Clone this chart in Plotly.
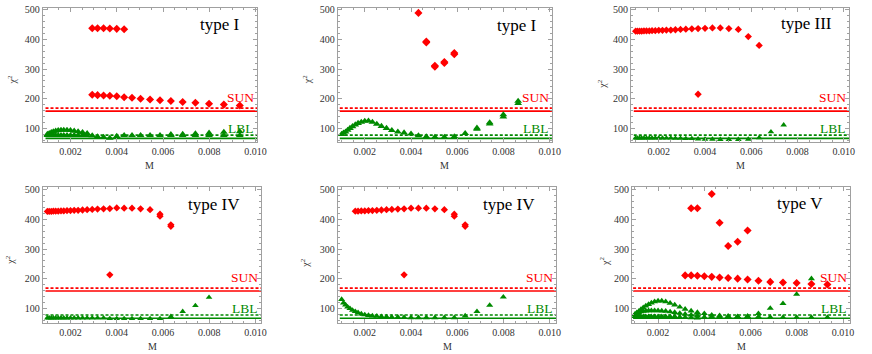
import plotly.graph_objects as go

W, H = 872, 354
SERIF = "Liberation Serif, Times New Roman, serif"
RED = "#ff0000"
GREEN = "#008a00"
FRAME = "#a0a0a0"

# ---------------- data ----------------
M_grid = [0.00100, 0.00108, 0.00117, 0.00126, 0.00136, 0.00147, 0.00159, 0.00171,
          0.00185, 0.00200, 0.00216, 0.00233, 0.00252, 0.00272, 0.00294, 0.00317,
          0.00343, 0.00370, 0.00400, 0.00432, 0.00466, 0.00503, 0.00544, 0.00587,
          0.00634, 0.00685, 0.00740, 0.00799, 0.00863, 0.00932]

SUN_solid, SUN_dashed = 158, 168
LBL_solid, LBL_dashed = 66, 77
line_span = [0.00092, 0.0110]

x_tickvals = [0.002, 0.004, 0.006, 0.008, 0.010]
x_ticktext = ["0.002", "0.004", "0.006", "0.008", "0.010"]
y_tickvals = [100, 200, 300, 400, 500]
y_ticktext = ["100", "200", "300", "400", "500"]
panel_titles = ["type I", "type I", "type III", "type IV", "type IV", "type V"]

# panel 1 (type I)
p1_red_hi_M = M_grid[14:20]
p1_red_hi = [438, 438, 438, 437, 436, 435]
p1_red_lo_M = M_grid[14:30]
p1_red_lo = [213, 212, 211, 210, 208, 205, 203, 200, 197, 195, 192, 189, 186, 183, 180, 177]
p1_grn_hump_M = M_grid[0:14]
p1_grn_hump = [80, 83, 86, 89, 91, 93, 94, 94, 94, 93, 91, 89, 86, 83]
p1_grn_low_M = M_grid[0:30]
p1_grn_low = [76, 76, 76, 76, 76, 76, 76, 76, 76, 76, 76, 76, 76, 76,
              75, 72, 70, 67, 73, 76, 76, 76, 76, 76, 76, 76, 76, 76, 76, 76]
p1_grn_up_M = M_grid[24:30]
p1_grn_up = [79, 80, 82, 84, 87, 89]

# panel 2 (type I)
p2_red_M = M_grid[19:24]
p2_red = [490, 390, 311, 324, 354]
p2_red_dbl_M = M_grid[20:24]
p2_red_dbl = [393, 308, 321, 350]
p2_grn_M = M_grid[0:29]
p2_grn = [80, 84, 88, 94, 100, 106, 112, 117, 121, 124,
          125, 121, 114, 107, 100, 93, 88, 85, 81, 75,
          72, 70, 70, 72, 83, 97, 115, 139, 184]
p2_grn_up_M = M_grid[25:29]
p2_grn_up = [101, 119, 146, 192]

# panel 3 (type III)
p3_red_M = M_grid[0:25]
p3_red = [428, 428, 428, 428, 429, 429, 429, 430, 430, 431,
          431, 432, 432, 433, 434, 435, 436, 437, 438, 439,
          439, 437, 434, 410, 380]
p3_red_x_M = [0.00370]
p3_red_x = [215]
p3_grn_M = M_grid[0:27]
p3_grn = [67, 67, 67, 67, 67, 67, 67, 67, 67, 67,
          67, 67, 67, 66, 66, 65, 65, 64,
          63, 63, 62, 62, 62, 63, 68, 88, 111]

# panel 4 (type IV)
p4_red_M = M_grid[0:25]
p4_red = [427, 427, 427, 428, 428, 428, 429, 429, 430, 430,
          431, 431, 432, 433, 434, 435, 436, 437, 439, 438,
          438, 436, 433, 418, 382]
p4_red_dbl_M = M_grid[23:25]
p4_red_dbl = [411, 377]
p4_red_x_M = [0.00370]
p4_red_x = [213]
p4_grn_M = M_grid[0:28]
p4_grn = [67, 67, 67, 67, 67, 67, 67, 67, 67, 67, 67, 67, 67, 67, 67, 67, 67,
          65, 65, 65, 65, 65, 65, 65, 72, 89, 109, 137]

# panel 5 (type IV)
p5_red_M = M_grid[6:25]
p5_red = [428, 428, 429, 429, 430, 430, 431, 432, 433,
          434, 435, 436, 438, 438, 438, 436, 433, 418, 382]
p5_red_dbl_M = M_grid[23:25]
p5_red_dbl = [411, 377]
p5_red_x_M = [0.00370]
p5_red_x = [213]
p5_grn_M = M_grid[0:28]
p5_grn = [130, 118, 111, 104, 99, 93, 89, 85, 81, 78,
          76, 74, 73, 72, 71, 70, 70, 69, 68, 68,
          68, 68, 68, 68, 74, 89, 110, 138]

# panel 6 (type V)
p6_red_hi_M = [0.00343, 0.00370, 0.00432, 0.00466, 0.00503, 0.00544, 0.00587]
p6_red_hi = [438, 438, 486, 389, 310, 325, 363]
p6_red_lo_M = M_grid[15:30]
p6_red_lo = [211, 211, 210, 208, 206, 204, 202, 200, 197, 193, 189, 187, 185, 182, 180]
p6_grn_up_M = M_grid[0:29]
p6_grn_up = [80, 85, 90, 96, 102, 108, 113, 118, 122, 125,
             125, 122, 117, 111, 104, 97, 91, 86, 82, 77,
             75, 73, 72, 73, 82, 100, 116, 147, 200]
p6_grn_mid_M = M_grid[0:18]
p6_grn_mid = [78, 82, 85, 88, 90, 91, 92, 92, 92, 92, 91, 90, 88, 86, 83, 80, 77, 75]
p6_grn_low_M = M_grid[0:30]
p6_grn_low = [72, 72, 72, 72, 72, 72, 72, 72, 72, 72, 72, 72, 72, 72,
              70, 69, 68, 67,
              70, 71, 71, 71, 71, 71, 71, 70, 69, 69, 69, 69]

# ---------------- panel setup ----------------
R = ("diamond", RED)
G = ("triangle-up", GREEN)
panels = [
    [(p1_grn_low_M, p1_grn_low, G, 6.8), (p1_grn_hump_M, p1_grn_hump, G, 6.8),
     (p1_grn_up_M, p1_grn_up, G, 6.8),
     (p1_red_hi_M, p1_red_hi, R, 6.2), (p1_red_lo_M, p1_red_lo, R, 6.2)],
    [(p2_grn_M, p2_grn, G, 6.8), (p2_grn_up_M, p2_grn_up, G, 6.8),
     (p2_red_M, p2_red, R, 6.2), (p2_red_dbl_M, p2_red_dbl, R, 6.2)],
    [(p3_grn_M, p3_grn, G, 5.8), (p3_red_M, p3_red, R, 5.6), (p3_red_x_M, p3_red_x, R, 5.6)],
    [(p4_grn_M, p4_grn, G, 5.8), (p4_red_M, p4_red, R, 5.6),
     (p4_red_dbl_M, p4_red_dbl, R, 5.6), (p4_red_x_M, p4_red_x, R, 5.6)],
    [(p5_grn_M, p5_grn, G, 6.2), (p5_red_M, p5_red, R, 5.6),
     (p5_red_dbl_M, p5_red_dbl, R, 5.6), (p5_red_x_M, p5_red_x, R, 5.6)],
    [(p6_grn_low_M, p6_grn_low, G, 6.2), (p6_grn_mid_M, p6_grn_mid, G, 6.2),
     (p6_grn_up_M, p6_grn_up, G, 6.2),
     (p6_red_hi_M, p6_red_hi, R, 6.2), (p6_red_lo_M, p6_red_lo, R, 6.2)],
]

# frame pixel boxes (left, right, top, bottom)
frames = [(43.3, 260.0, 4.0, 140.0), (341.7, 558.3, 4.0, 140.0), (638.3, 859.3, 4.0, 140.0),
          (43.3, 264.3, 185.3, 322.5), (341.7, 562.7, 185.3, 322.5), (639.3, 860.0, 185.3, 322.5)]
x002_px = [71.3, 369.0, 666.4, 71.3, 369.0, 665.7]
y500_px = [6.0, 6.0, 6.0, 188.0, 188.0, 188.0]
XS = 23400.0   # px per unit of M
YS = 0.29925   # px per unit of chi^2
title_pos = [(245, 21), (545, 21.7), (843.3, 20), (245, 203), (543.3, 203), (835, 202)]
chi_pos = [(11.7, 76.7), (310, 76.7), (609, 81.7), (10, 258.7), (308.3, 262), (611.7, 260.3)]

fig = go.Figure()
layout = {}
annotations = []

for i, traces in enumerate(panels):
    n = i + 1
    xa = "x" if n == 1 else f"x{n}"
    ya = "y" if n == 1 else f"y{n}"
    # reference lines
    for lvl, dash, col in [(SUN_solid, "solid", RED), (SUN_dashed, "3px,2px", RED),
                           (LBL_solid, "solid", GREEN), (LBL_dashed, "3px,2px", GREEN)]:
        fig.add_trace(go.Scatter(x=line_span, y=[lvl, lvl], mode="lines",
                                 line=dict(color=col, width=1.6, dash=dash),
                                 xaxis=xa, yaxis=ya, showlegend=False, hoverinfo="skip"))
    for xs, ys, (sym, col), sz in traces:
        fig.add_trace(go.Scatter(x=xs, y=ys, mode="markers",
                                 marker=dict(symbol=sym, size=sz, color=col, line=dict(width=0)),
                                 xaxis=xa, yaxis=ya, showlegend=False))

    L, Rr, T, B = frames[i]
    xr = [0.002 + (L - x002_px[i]) / XS, 0.002 + (Rr - x002_px[i]) / XS]
    yr = [500 - (B - y500_px[i]) / YS, 500 + (y500_px[i] - T) / YS]
    common = dict(showline=True, linecolor=FRAME, linewidth=1, mirror="allticks",
                  ticks="inside", ticklen=4, tickwidth=1, tickcolor=FRAME,
                  showgrid=False, zeroline=False,
                  tickfont=dict(family=SERIF, size=10, color="#333333"))
    layout["xaxis" if n == 1 else f"xaxis{n}"] = dict(
        common, domain=[L / W, Rr / W], range=xr, anchor=ya,
        tickmode="array", tickvals=x_tickvals, ticktext=x_ticktext,
        minor=dict(tickmode="linear", tick0=0, dtick=0.0005, ticks="inside",
                   ticklen=2, tickcolor=FRAME))
    layout["yaxis" if n == 1 else f"yaxis{n}"] = dict(
        common, domain=[1 - B / H, 1 - T / H], range=yr, anchor=xa,
        tickmode="array", tickvals=y_tickvals, ticktext=y_ticktext,
        minor=dict(tickmode="linear", tick0=0, dtick=20, ticks="inside",
                   ticklen=2, tickcolor=FRAME))

    xd = "x domain" if n == 1 else f"x{n} domain"
    annotations.append(dict(text="SUN", xref=xd, yref=ya, x=1, y=203, xanchor="right",
                            yanchor="middle", xshift=-1, showarrow=False,
                            font=dict(family=SERIF, size=13.5, color=RED)))
    annotations.append(dict(text="LBL", xref=xd, yref=ya, x=1, y=100, xanchor="right",
                            yanchor="middle", xshift=-1, showarrow=False,
                            font=dict(family=SERIF, size=13.5, color=GREEN)))
    tx, ty = title_pos[i]
    annotations.append(dict(text=panel_titles[i], xref="paper", yref="paper", x=tx / W,
                            y=1 - ty / H, xanchor="right", yanchor="middle", showarrow=False,
                            font=dict(family=SERIF, size=17, color="black")))
    cx, cy = chi_pos[i]
    annotations.append(dict(text="χ<sup>2</sup>", xref="paper", yref="paper", x=cx / W,
                            y=1 - cy / H, xanchor="center", yanchor="middle", showarrow=False,
                            textangle=-90, font=dict(family=SERIF, size=10, color="#333333")))
    my = 163 if n <= 3 else 346
    annotations.append(dict(text="M", xref="paper", yref="paper", x=(L + Rr) / 2 / W,
                            y=1 - my / H, xanchor="center", yanchor="middle", showarrow=False,
                            font=dict(family=SERIF, size=10, color="#333333")))

fig.update_layout(width=W, height=H, margin=dict(l=0, r=0, t=0, b=0),
                  paper_bgcolor="white", plot_bgcolor="white",
                  annotations=annotations, **layout)
fig.write_html("out.html", config={"displayModeBar": False},
               post_script="document.body.style.margin='0';document.body.style.overflow='hidden';")
